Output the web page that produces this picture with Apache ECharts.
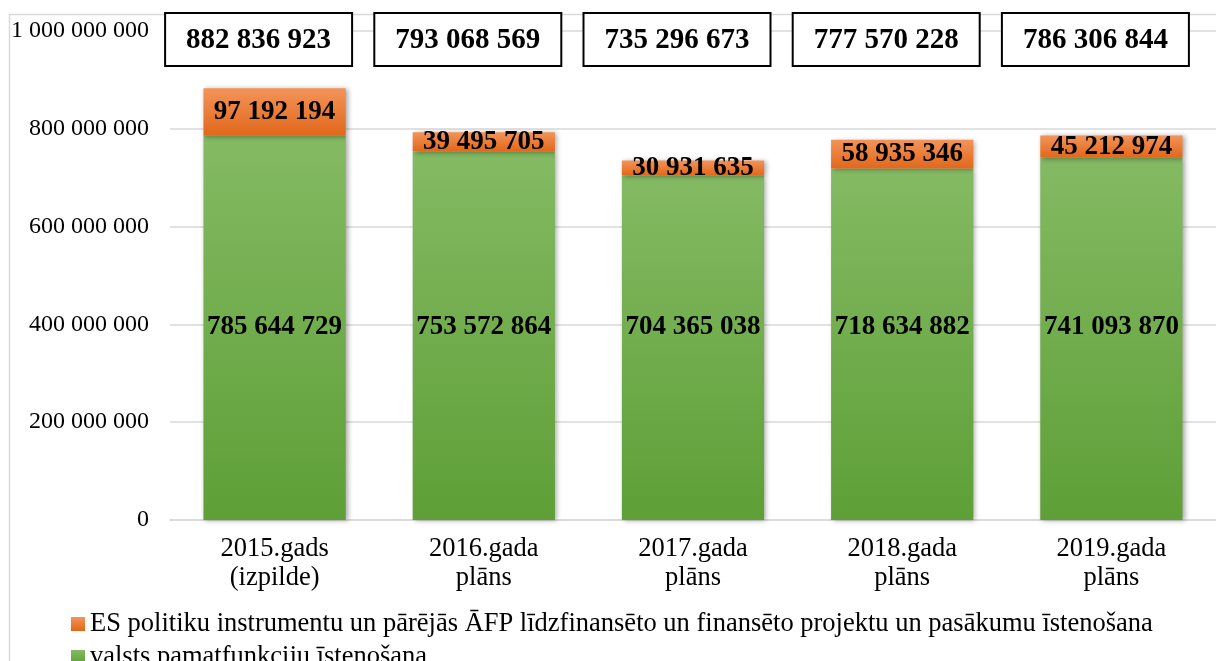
<!DOCTYPE html>
<html>
<head>
<meta charset="utf-8">
<script src="https://cdn.jsdelivr.net/npm/echarts@6/dist/echarts.min.js"></script>
<style>
  html, body { margin: 0; padding: 0; background: #fff; }
  #chart { width: 1216px; height: 661px; }
</style>
</head>
<body>
<div id="chart"></div>
<script>
// ---- data ----
const categories = ['2015.gads\n(izpilde)', '2016.gada\nplāns', '2017.gada\nplāns', '2018.gada\nplāns', '2019.gada\nplāns'];
const coreFunctions = [785644729, 753572864, 704365038, 718634882, 741093870];   // valsts pamatfunkciju īstenošana
const euProjects = [97192194, 39495705, 30931635, 58935346, 45212974];           // ES politiku instrumentu ...
const totals = [882836923, 793068569, 735296673, 777570228, 786306844];
const yTicks = [0, 200000000, 400000000, 600000000, 800000000, 1000000000];
const seriesNames = [
  'ES politiku instrumentu un pārējās ĀFP līdzfinansēto un finansēto projektu un pasākumu īstenošana',
  'valsts pamatfunkciju īstenošana'
];

const fmt = v => String(v).replace(/\B(?=(\d{3})+(?!\d))/g, ' ');
const FONT = '"Liberation Serif", "Times New Roman", serif';

const greenGrad = new echarts.graphic.LinearGradient(0, 0, 0, 1, [
  { offset: 0, color: '#84ba63' }, { offset: 1, color: '#5e9f37' }
]);
const orangeGrad = new echarts.graphic.LinearGradient(0, 0, 0, 1, [
  { offset: 0, color: '#f29459' }, { offset: 1, color: '#e2671a' }
]);

const chart = echarts.init(document.getElementById('chart'), null, { renderer: 'canvas' });
chart.setOption({
  animation: false,
  backgroundColor: '#fff',
  textStyle: { fontFamily: FONT },
  graphic: [{
    type: 'rect', left: 7, top: 12, z: -10,
    shape: { width: 1400, height: 800 },
    style: { fill: 'none', stroke: '#d9d9d9', lineWidth: 1.5 }
  }],
  grid: [
    { left: 170, right: 0, top: 31, bottom: 141 },
    { left: 154, right: 16, top: 14, height: 80 }
  ],
  legend: {
    orient: 'vertical',
    left: 66, top: 605, height: 120,
    itemWidth: 14, itemHeight: 14, itemGap: 5,
    icon: 'rect',
    data: [seriesNames[0], seriesNames[1]],
    textStyle: { fontFamily: FONT, fontSize: 26.5, color: '#000', lineHeight: 28 }
  },
  xAxis: [{
    type: 'category',
    data: categories,
    axisLine: { lineStyle: { color: '#d9d9d9', width: 1.5 } },
    axisTick: { show: false },
    axisLabel: { fontFamily: FONT, fontSize: 26.5, color: '#000', lineHeight: 29, margin: 15 }
  }, {
    type: 'category',
    gridIndex: 1,
    position: 'top',
    data: totals.map(fmt),
    z: 10,
    axisLine: { show: false },
    axisTick: { show: false },
    axisLabel: {
      inside: true, margin: 0,
      fontFamily: FONT, fontSize: 29, fontWeight: 'bold', color: '#000',
      backgroundColor: '#fff', borderColor: '#000', borderWidth: 2,
      padding: [12, 20, 10, 20]
    }
  }],
  yAxis: [{
    type: 'value',
    min: 0, max: 1000000000, interval: 200000000,
    axisLine: { show: false },
    axisTick: { show: false },
    splitLine: { lineStyle: { color: '#d9d9d9', width: 1.5 } },
    axisLabel: {
      fontFamily: FONT, fontSize: 24, color: '#000', margin: 21,
      formatter: v => yTicks.includes(v) ? fmt(v) : ''
    }
  }, {
    type: 'value', gridIndex: 1, show: false
  }],
  series: [{
    name: seriesNames[1],
    type: 'bar',
    stack: 'total',
    barWidth: '68%',
    data: coreFunctions,
    itemStyle: {
      color: greenGrad,
      shadowBlur: 5, shadowColor: 'rgba(0,0,0,0.35)', shadowOffsetX: 2, shadowOffsetY: 1
    },
    label: {
      show: true, position: 'insideBottom', distance: 179,
      formatter: p => fmt(p.value),
      fontFamily: FONT, fontSize: 27, fontWeight: 'bold', color: '#000'
    }
  }, {
    name: seriesNames[0],
    type: 'bar',
    stack: 'total',
    barWidth: '68%',
    data: euProjects,
    itemStyle: {
      color: orangeGrad,
      shadowBlur: 5, shadowColor: 'rgba(0,0,0,0.35)', shadowOffsetX: 2, shadowOffsetY: 1
    },
    label: {
      show: true, position: 'inside',
      formatter: p => fmt(p.value),
      fontFamily: FONT, fontSize: 27, fontWeight: 'bold', color: '#000'
    }
  }]
});
</script>
</body>
</html>
